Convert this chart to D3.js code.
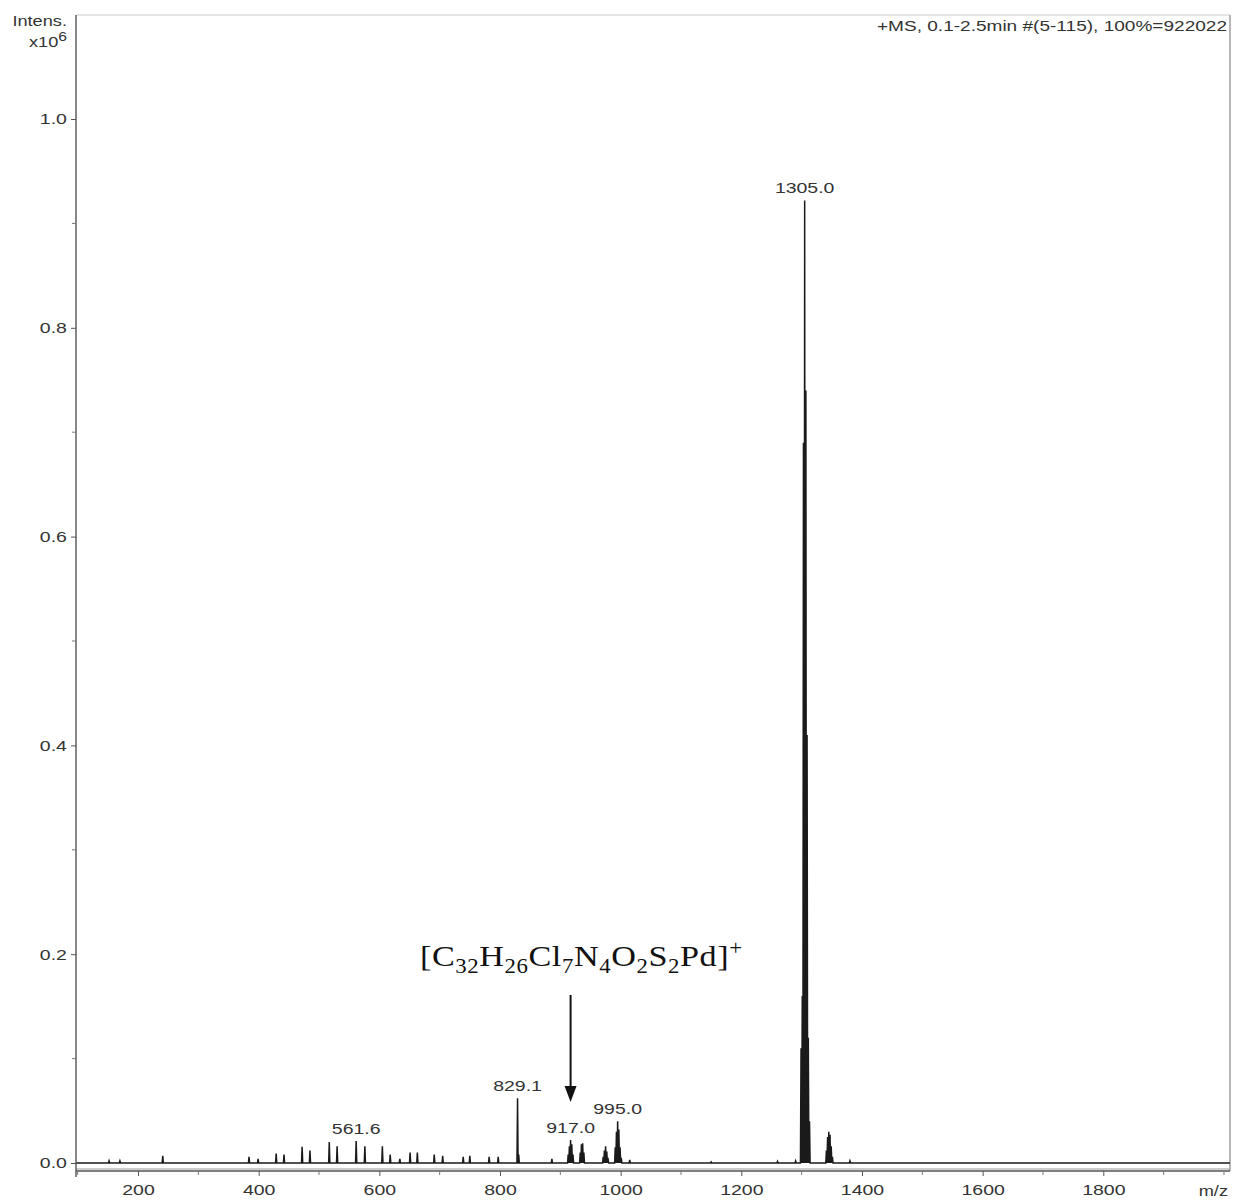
<!DOCTYPE html>
<html>
<head>
<meta charset="utf-8">
<script src="https://cdn.jsdelivr.net/npm/d3@7/dist/d3.min.js"></script>
<style>
  html, body { margin: 0; padding: 0; background: #fff; }
  svg { display: block; }
  text { font-family: "Liberation Sans", Arial, sans-serif; fill: #333; }
</style>
</head>
<body>
<script>
// ---- data (m/z, intensity in x10^6) ----
const peakMz = [
  152, 170, 241, 384, 399, 429, 442, 472, 485, 517, 530, 561.6, 576, 605, 618, 634, 651, 663,
  691, 705, 739, 750, 782, 797, 829.1, 831, 886,
  913, 915, 917, 919, 921, 933, 935, 937, 939,
  971, 973, 975, 977, 979, 991, 993, 995, 997, 999, 1001, 1015,
  1150, 1260, 1290,
  1299, 1301, 1303, 1305, 1307, 1309, 1311, 1313,
  1341, 1343, 1345, 1347, 1349, 1351, 1380
];
const peakIntensity = [
  0.002, 0.002, 0.007, 0.006, 0.004, 0.009, 0.008, 0.0155, 0.012, 0.020, 0.016, 0.021, 0.016, 0.016, 0.008, 0.004, 0.010, 0.010,
  0.008, 0.007, 0.006, 0.007, 0.006, 0.006, 0.062, 0.008, 0.004,
  0.008, 0.016, 0.022, 0.018, 0.008, 0.010, 0.018, 0.019, 0.010,
  0.006, 0.012, 0.016, 0.011, 0.005, 0.015, 0.030, 0.040, 0.032, 0.015, 0.005, 0.003,
  0.001, 0.0015, 0.002,
  0.11, 0.16, 0.69, 0.922, 0.74, 0.41, 0.12, 0.04,
  0.012, 0.025, 0.030, 0.027, 0.016, 0.006, 0.002
];
const labelMz = [1305.0, 829.1, 561.6, 917.0, 995.0];
const labelText = ["1305.0", "829.1", "561.6", "917.0", "995.0"];
const labelIntensity = [0.922, 0.062, 0.021, 0.022, 0.040];
const xMajorTicks = [200, 400, 600, 800, 1000, 1200, 1400, 1600, 1800];
const xMinorTicks = [100, 300, 500, 700, 900, 1100, 1300, 1500, 1700, 1900, 2000];
const yMajorTicks = [0.0, 0.2, 0.4, 0.6, 0.8, 1.0];
const yMinorTicks = [0.1, 0.3, 0.5, 0.7, 0.9];
const headerText = "+MS, 0.1-2.5min #(5-115), 100%=922022";
const annotationMz = 917.0;

// ---- layout ----
const W = 1233, H = 1201;
const padL = 76, padR = 1230, padT = 15, zeroY = 1163, axisY = 1171;
const SX = 1.3; // horizontal stretch of the sans labels (as in the source image)

const svg = d3.select("body").append("svg").attr("width", W).attr("height", H);

const x = d3.scaleLinear().domain([97.2, 2010]).range([padL, padR]);
const y = d3.scaleLinear().domain([0, 1.0]).range([zeroY, 119]);

function stretchedText(parent, px, py, anchor, size, txt) {
  return parent.append("text")
    .attr("transform", `translate(${px},${py}) scale(${SX},1)`)
    .attr("text-anchor", anchor).attr("font-size", size).text(txt);
}

// frame
svg.append("line").attr("x1", padL).attr("x2", padR).attr("y1", padT).attr("y2", padT)
  .attr("stroke", "#ccc").attr("stroke-width", 1.2);
svg.append("line").attr("x1", padR).attr("x2", padR).attr("y1", padT).attr("y2", axisY)
  .attr("stroke", "#888").attr("stroke-width", 1.2);

// spectrum profile
const hw = 1.0;
let pts = [[x.domain()[0], 0]];
peakMz.forEach((m, i) => {
  pts.push([m - hw, 0], [m, peakIntensity[i]], [m + hw, 0]);
});
pts.push([x.domain()[1], 0]);
pts.sort((a, b) => a[0] - b[0]);
const line = d3.line().x(d => x(d[0])).y(d => y(d[1]));
svg.append("path").datum(pts).attr("d", line)
  .attr("fill", "none").attr("stroke", "#1a1a1a").attr("stroke-width", 1.5)
  .attr("stroke-linejoin", "miter");

// x axis
const xAxisG = svg.append("g").attr("transform", `translate(0,${axisY})`);
xAxisG.append("line").attr("x1", padL).attr("x2", padR).attr("y1", -2).attr("y2", -2)
  .attr("stroke", "#999").attr("stroke-width", 1);
xAxisG.append("line").attr("x1", padL).attr("x2", padR).attr("y1", 0).attr("y2", 0)
  .attr("stroke", "#555").attr("stroke-width", 1.4);
const xAx = d3.axisBottom(x).tickValues(xMajorTicks).tickSize(5).tickPadding(8).tickFormat(d3.format("d"));
const gx = xAxisG.append("g").call(xAx);
gx.select(".domain").remove();
gx.selectAll("line").attr("stroke", "#555");
gx.selectAll("text").attr("font-size", 15).attr("fill", "#333")
  .attr("font-family", "Liberation Sans, Arial, sans-serif")
  .attr("transform", `scale(${SX},1)`);
xAxisG.selectAll(".minor").data(xMinorTicks.filter(d => d >= x.domain()[0] && d <= x.domain()[1])).enter()
  .append("line").attr("x1", d => x(d)).attr("x2", d => x(d)).attr("y1", 0).attr("y2", 4)
  .attr("stroke", "#777");
stretchedText(svg, 1228, 1196, "end", 14, "m/z");

// y axis
svg.append("line").attr("x1", padL).attr("x2", padL).attr("y1", padT).attr("y2", axisY + 6)
  .attr("stroke", "#555").attr("stroke-width", 1.4);
const yAx = d3.axisLeft(y).tickValues(yMajorTicks).tickSize(5).tickPadding(2).tickFormat(d3.format(".1f"));
const gy = svg.append("g").attr("transform", `translate(${padL},0)`).call(yAx);
gy.select(".domain").remove();
gy.selectAll("line").attr("stroke", "#555");
gy.selectAll("text").attr("font-size", 15).attr("fill", "#333")
  .attr("font-family", "Liberation Sans, Arial, sans-serif")
  .attr("transform", `scale(${SX},1)`);
svg.append("g").selectAll("line").data(yMinorTicks).enter().append("line")
  .attr("x1", padL - 4).attr("x2", padL).attr("y1", d => y(d)).attr("y2", d => y(d))
  .attr("stroke", "#777");

// y title
stretchedText(svg, 67, 26, "end", 14, "Intens.");
const yt = svg.append("text").attr("transform", `translate(67,47) scale(${SX},1)`)
  .attr("text-anchor", "end").attr("font-size", 14);
yt.append("tspan").text("x10");
yt.append("tspan").attr("dy", -6).attr("font-size", 12).text("6");

// header
svg.append("text").attr("x", 1227).attr("y", 31).attr("text-anchor", "end")
  .attr("font-size", 14.5).attr("textLength", 350).attr("lengthAdjust", "spacingAndGlyphs").text(headerText);

// peak labels
labelMz.forEach((m, i) => {
  stretchedText(svg, x(m), y(labelIntensity[i]) - 7, "middle", 15, labelText[i]);
});

// formula annotation
const f = svg.append("text").attr("transform", "translate(420,966) scale(1.14,1)")
  .style("font-family", "'Liberation Serif', 'Times New Roman', serif").attr("font-size", 30)
  .style("fill", "#111").style("letter-spacing", "0.5px");
const parts = [
  ["[C", 0], ["32", 1], ["H", 0], ["26", 1], ["Cl", 0], ["7", 1], ["N", 0], ["4", 1],
  ["O", 0], ["2", 1], ["S", 0], ["2", 1], ["Pd]", 0], ["+", 2]
];
let state = 0;
parts.forEach(([t, k]) => {
  const ts = f.append("tspan").text(t);
  let target = k === 1 ? 7 : (k === 2 ? -11 : 0);
  ts.attr("dy", target - state);
  state = target;
  if (k > 0) ts.attr("font-size", 20);
});

// arrow
const ax = x(annotationMz);
svg.append("line").attr("x1", ax).attr("x2", ax).attr("y1", 995).attr("y2", 1088)
  .attr("stroke", "#111").attr("stroke-width", 2);
svg.append("path").attr("d", `M${ax - 6},1086 L${ax + 6},1086 L${ax},1102 Z`).attr("fill", "#111");
</script>
</body>
</html>
